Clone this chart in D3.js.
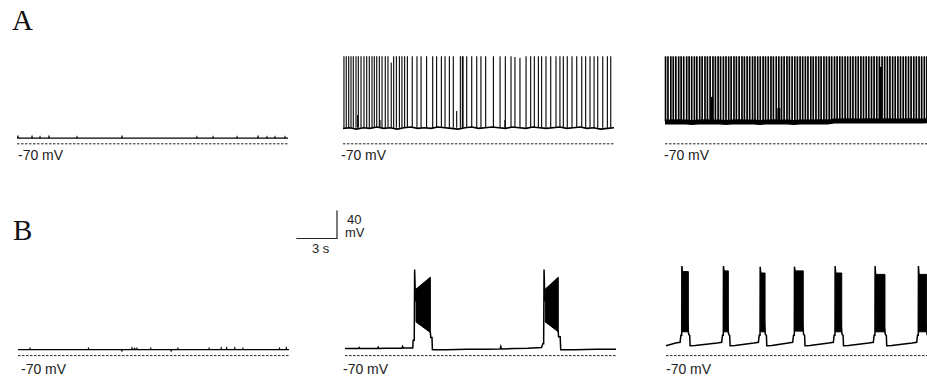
<!DOCTYPE html>
<html>
<head>
<meta charset="utf-8">
<script src="https://cdn.jsdelivr.net/npm/d3@7"></script>
<style>
  body { margin: 0; background: #fff; }
  svg { display: block; }
  .lbl { font-family: "Liberation Sans", Arial, sans-serif; font-size: 14px; fill: #222; }
  .sb { font-family: "Liberation Sans", Arial, sans-serif; font-size: 13px; fill: #222; }
  .panel-letter { font-family: "Liberation Serif", "Times New Roman", serif; font-size: 29px; fill: #111; }
</style>
</head>
<body>
<div id="chart"></div>
<script>
const width = 927, height = 377;
const mvPx = 0.7, secPx = 13.55, panelSec = 20;

// ---- row A ----
// A1: quiet cell, resting level (mV) + tiny deflections [t (s), dmV]
const a1Rest = -62;
const a1Blips = [[0.07, 2], [1.11, 2], [1.7, 1.5], [2.36, 2], [4.43, 1.5], [7.75, 2], [13.28, 1.5],
    [14.47, 1.5], [16.24, 1.5], [17.79, 2], [18.45, 1.5], [19.04, 1.5], [19.78, 1.5]];

// A2: tonic firing, spikes [t, peak mV], baseline sampled every 0.5 s
const a2Spikes = [[0.07, 55], [0.24, 55], [0.42, 55], [0.59, 55], [0.76, 55], [0.96, 55], [1.13, 55], [1.33, 55],
    [1.55, 55], [1.75, 55], [1.94, 55], [2.14, 55], [2.31, 55], [2.49, 55], [2.68, 55], [2.88, 55], [3.12, 55],
    [3.32, 55], [3.56, 46], [3.74, 55], [3.94, 55], [4.16, 55], [4.35, 55], [4.55, 55], [4.75, 55], [5.11, 55],
    [5.46, 55], [5.76, 55], [6.17, 55], [6.62, 55], [6.91, 55], [7.26, 55], [7.53, 55], [7.85, 55], [8.14, 55],
    [8.66, 55], [8.81, 55], [8.86, 55], [9.13, 55], [9.5, 55], [9.87, 55], [10.18, 55], [10.53, 55], [11.1, 55],
    [11.59, 55], [11.98, 55], [12.4, 55], [12.69, 54], [13.06, 53], [13.51, 55], [13.85, 55], [14.12, 55],
    [14.42, 55], [14.66, 55], [14.98, 55], [15.33, 55], [15.72, 55], [16.01, 55], [16.26, 55], [16.55, 55],
    [16.9, 55], [17.25, 55], [17.62, 55], [17.91, 55], [18.23, 55], [18.53, 55], [18.8, 55], [19.17, 55],
    [19.51, 55], [19.76, 55]];
const a2Partial = [[1.08, -29], [2.73, -36], [8.39, -23], [11.95, -36]];
const a2Foot = -47;
const a2Base = [-48, -47, -49, -47, -48, -46, -48, -47, -49, -47, -46, -48, -47, -48, -46, -47, -48, -49, -47, -46,
    -48, -47, -46, -47, -48, -46, -47, -48, -46, -47, -48, -47, -46, -48, -47, -46, -48, -47, -49, -48, -47];

// A3: high-rate firing, spike times (s)
const a3Spikes = [0.04, 0.22, 0.43, 0.61, 0.8, 1.01, 1.19, 1.38, 1.6, 1.78, 1.97, 2.17, 2.35, 2.56, 2.74, 2.95,
    3.13, 3.33, 3.54, 3.72, 3.92, 4.1, 4.31, 4.5, 4.7, 4.88, 5.09, 5.27, 5.47, 5.68, 5.86, 6.06, 6.25, 6.46, 6.64,
    6.84, 7.03, 7.24, 7.42, 7.62, 7.82, 8.0, 8.21, 8.4, 8.6, 8.79, 9.0, 9.18, 9.38, 9.58, 9.77, 9.97, 10.16, 10.36,
    10.55, 10.76, 10.94, 11.14, 11.34, 11.52, 11.73, 11.92, 12.12, 12.3, 12.51, 12.7, 12.9, 13.09, 13.29, 13.48,
    13.68, 13.87, 14.07, 14.26, 14.46, 14.65, 14.85, 15.04, 15.24, 15.43, 15.63, 15.82, 16.02, 16.21, 16.41, 16.6,
    16.8, 16.99, 17.19, 17.38, 17.58, 17.77, 17.97, 18.16, 18.36, 18.55, 18.75, 18.94, 19.14, 19.33, 19.53,
    19.72, 19.92];
const a3Peak = 55, a3Foot = -38;
const a3Partial = [[3.45, -3], [8.4, -19], [15.9, 40]];
const a3Base = [-39, -39, -38.5, -39, -39.5, -39, -38.5, -39, -39, -39.5, -39, -38.5, -39, -39, -39.5, -39,
    -38.5, -39, -39, -39.5, -39, -39, -39, -38.5, -39, -37.5, -37.5, -37, -37.5, -37.5, -37, -37.5, -37.5,
    -37, -37.5, -37.5, -37, -37.5, -37.5, -37, -37.5];

// ---- row B ----
const b1Rest = -61.5;
const b1Blips = [[0.89, 1.5], [5.2, 1.5], [7.67, -1.5], [8.41, 2], [8.6, 2.5], [8.78, 1.5], [9.8, 1.5],
    [11.3, -1.5], [11.8, 1.5], [14.1, 1.5], [15.0, 2], [15.4, 2], [16.0, 2], [16.6, 1.5], [19.3, 1.5], [19.8, 2]];

// B2: two long bursts; trace [t, mV] and burst envelopes [t, top, bottom]
const b2Trace = [[0, -60], [1.0, -60], [1.05, -58.5], [1.1, -60], [2.4, -60], [2.45, -58], [2.5, -60],
    [3.0, -59.5], [4.2, -59.5], [4.25, -57], [4.3, -59], [5.0, -59], [5.03, -48], [5.11, -48], [5.14, 53],
    [5.2, 10], [6.3, -37], [6.33, -44], [6.42, -44], [6.45, -61.5], [7.5, -61.5], [9, -61], [10.5, -61],
    [11.45, -60.5], [11.5, -57], [11.55, -60.5], [12.5, -60], [13.5, -59.5], [14.5, -58.5], [14.6, -53],
    [14.66, -53], [14.69, 53], [14.75, 10], [15.74, -36], [15.76, -43], [15.88, -43], [15.92, -61.5],
    [17, -61.5], [18.5, -61], [20, -61]];
const b2Bursts = [
    [[5.24, 25, -22], [6.3, 42, -37]],
    [[14.78, 25, -22], [15.74, 42, -36]]
];

// B3: rhythmic short bursts
const b3Onset = [1.16, 4.23, 6.94, 9.47, 12.47, 15.42, 18.62];
const b3Offset = [1.65, 4.6, 7.31, 10.13, 12.97, 16.16, 19.24];
const b3Peak = [58, 58, 57, 57, 58, 58, 58];
const b3Top = [50, 51, 48, 51, 48, 46, 46];
const b3Floor = [-36, -36, -36, -35, -36, -36, -36];
const b3Trough = -56, b3PreBurst = -51;

// ---- layout ----
const rows = [
    { zero: 143.8, label: 159.5, x0: [17, 343, 665], lx: [18, 341, 664] },
    { zero: 355.6, label: 374, x0: [18, 345, 666], lx: [21, 343, 666] }
];

const svg = d3.select("#chart").append("svg")
    .attr("width", width)
    .attr("height", height);

function xFor(x0) {
    return d3.scaleLinear().domain([0, panelSec]).range([x0, x0 + panelSec * secPx]);
}
function yFor(row) {
    return d3.scaleLinear().domain([-70, 60]).range([row.zero, row.zero - 130 * mvPx]);
}

function quietTrace(rest, blips) {
    const pts = [[0, rest]];
    blips.forEach(b => {
        pts.push([b[0] - 0.03, rest], [b[0], rest + b[1]], [b[0] + 0.03, rest]);
    });
    pts.push([panelSec, rest]);
    return pts;
}

function drawPanel(x, y, row, i) {
    const g = svg.append("g");
    // -70 mV reference
    g.append("line")
        .attr("x1", x(0)).attr("x2", x(panelSec))
        .attr("y1", y(-70)).attr("y2", y(-70))
        .attr("stroke", "#222").attr("stroke-width", 1)
        .attr("stroke-dasharray", "2.5,1.5");
    g.append("text")
        .attr("class", "lbl")
        .attr("x", row.lx[i]).attr("y", row.label)
        .text("-70 mV");
    return g;
}

const line = (x, y) => d3.line().x(d => x(d[0])).y(d => y(d[1]));

// Row A
{
    const row = rows[0], y = yFor(row);
    // A1
    let x = xFor(row.x0[0]);
    let g = drawPanel(x, y, row, 0);
    g.append("path").attr("d", line(x, y)(quietTrace(a1Rest, a1Blips)))
        .attr("fill", "none").attr("stroke", "#000").attr("stroke-width", 1.3);

    // A2
    x = xFor(row.x0[1]);
    g = drawPanel(x, y, row, 1);
    g.append("path").attr("d", line(x, y)(a2Base.map((v, k) => [k * 0.5, v])))
        .attr("fill", "none").attr("stroke", "#000").attr("stroke-width", 1.6);
    g.selectAll(".sp").data(a2Spikes).join("line")
        .attr("x1", d => x(d[0])).attr("x2", d => x(d[0]))
        .attr("y1", y(a2Foot)).attr("y2", d => y(d[1]))
        .attr("stroke", "#000").attr("stroke-width", 1.1);
    g.selectAll(".pp").data(a2Partial).join("line")
        .attr("x1", d => x(d[0])).attr("x2", d => x(d[0]))
        .attr("y1", y(a2Foot)).attr("y2", d => y(d[1]))
        .attr("stroke", "#000").attr("stroke-width", 1.1);

    // A3
    x = xFor(row.x0[2]);
    g = drawPanel(x, y, row, 2);
    g.append("path").attr("d", line(x, y)(a3Base.map((v, k) => [k * 0.5, v])))
        .attr("fill", "none").attr("stroke", "#000").attr("stroke-width", 5);
    g.selectAll(".sp").data(a3Spikes).join("line")
        .attr("x1", d => x(d)).attr("x2", d => x(d))
        .attr("y1", y(a3Foot)).attr("y2", y(a3Peak))
        .attr("stroke", "#000").attr("stroke-width", 1.7);
    g.selectAll(".pp").data(a3Partial).join("line")
        .attr("x1", d => x(d[0])).attr("x2", d => x(d[0]))
        .attr("y1", y(a3Foot)).attr("y2", d => y(d[1]))
        .attr("stroke", "#000").attr("stroke-width", 3);
}

// Row B
{
    const row = rows[1], y = yFor(row);
    // B1
    let x = xFor(row.x0[0]);
    let g = drawPanel(x, y, row, 0);
    g.append("path").attr("d", line(x, y)(quietTrace(b1Rest, b1Blips)))
        .attr("fill", "none").attr("stroke", "#000").attr("stroke-width", 1.3);

    // B2
    x = xFor(row.x0[1]);
    g = drawPanel(x, y, row, 1);
    g.append("path").attr("d", line(x, y)(b2Trace))
        .attr("fill", "none").attr("stroke", "#000").attr("stroke-width", 1.5);
    const area = d3.area().x(d => x(d[0])).y0(d => y(d[2])).y1(d => y(d[1]));
    g.selectAll(".burst").data(b2Bursts).join("path")
        .attr("d", area).attr("fill", "#000").attr("stroke", "#000").attr("stroke-width", 1);

    // scale bar (3 s, 40 mV), corner at right-bottom
    const sb = { x: 337, y: 238.5 };
    const secLen = x(3) - x(0), mvLen = y(-70) - y(-30);
    svg.append("path")
        .attr("d", `M${sb.x - secLen},${sb.y}H${sb.x}V${sb.y - mvLen}`)
        .attr("fill", "none").attr("stroke", "#222").attr("stroke-width", 1.2);
    svg.append("text").attr("class", "sb").attr("x", sb.x + 10).attr("y", sb.y - 15).text("40");
    svg.append("text").attr("class", "sb").attr("x", sb.x + 8).attr("y", sb.y - 1.5).text("mV");
    svg.append("text").attr("class", "sb").attr("x", sb.x - 25).attr("y", sb.y + 14.5).text("3 s");

    // B3
    x = xFor(row.x0[2]);
    g = drawPanel(x, y, row, 2);
    const pts = [[0, b3Trough]];
    b3Onset.forEach((on, k) => {
        const off = b3Offset[k];
        pts.push([on - 0.45, b3PreBurst - 1], [on - 0.12, b3PreBurst], [on - 0.06, -41], [on, -41],
            [on + 0.01, b3Peak[k]], [on + 0.05, b3Top[k]], [off, b3Floor[k]], [off + 0.03, -40],
            [off + 0.1, -41], [off + 0.13, b3Trough], [off + 0.5, b3Trough + 0.5]);
    });
    pts.push([panelSec, b3Trough]);
    g.append("path").attr("d", line(x, y)(pts))
        .attr("fill", "none").attr("stroke", "#000").attr("stroke-width", 1.5);
    const blocks = b3Onset.map((on, k) => [[on + 0.05, b3Top[k], b3Floor[k]], [b3Offset[k], b3Top[k], b3Floor[k]]]);
    g.selectAll(".burst").data(blocks).join("path")
        .attr("d", area.x(d => x(d[0])).y0(d => y(d[2])).y1(d => y(d[1])))
        .attr("fill", "#000").attr("stroke", "#000").attr("stroke-width", 1);
}

// panel letters
svg.append("text").attr("class", "panel-letter").attr("x", 12).attr("y", 30).text("A");
svg.append("text").attr("class", "panel-letter").attr("x", 13).attr("y", 240).text("B");
</script>
</body>
</html>
